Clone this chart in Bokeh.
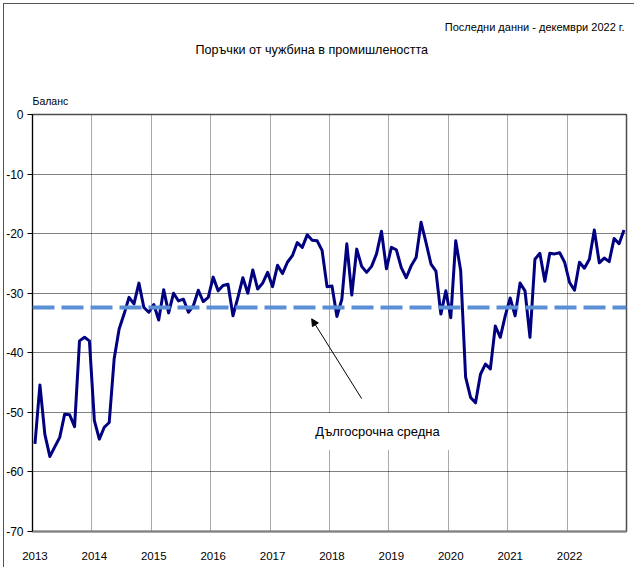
from bokeh.plotting import figure
from bokeh.layouts import column
from bokeh.models import Label, Arrow, NormalHead, Span, FixedTicker, Range1d
from bokeh.embed import file_html
from bokeh.resources import INLINE

# ---- data (monthly balance, Jan 2013 - Dec 2022) ----
years = ["2013", "2014", "2015", "2016", "2017", "2018", "2019", "2020", "2021", "2022"]
values_2013 = [-55.3, -45.4, -53.7, -57.4, -55.8, -54.2, -50.3, -50.4, -52.4, -38.0, -37.4, -38.0]
values_2014 = [-51.4, -54.5, -52.5, -51.7, -41.0, -36.0, -33.5, -30.7, -31.8, -28.3, -32.4, -33.2]
values_2015 = [-31.9, -34.5, -29.4, -33.3, -30.0, -31.3, -31.0, -33.2, -32.1, -29.5, -31.4, -30.7]
values_2016 = [-27.3, -29.6, -28.7, -28.5, -33.8, -30.7, -27.4, -30.0, -26.1, -29.3, -28.3, -26.5]
values_2017 = [-28.9, -25.3, -26.7, -24.8, -23.7, -21.5, -22.3, -20.2, -21.1, -21.2, -22.8, -28.9]
values_2018 = [-28.8, -33.9, -31.0, -21.7, -30.3, -22.6, -25.5, -26.5, -25.5, -23.4, -19.6, -25.9]
values_2019 = [-22.3, -22.7, -25.7, -27.4, -25.4, -24.0, -18.1, -21.5, -25.1, -26.3, -33.5, -29.6]
values_2020 = [-34.1, -21.2, -26.2, -44.1, -47.5, -48.4, -43.6, -41.9, -42.7, -35.5, -37.4, -33.8]
values_2021 = [-30.8, -33.8, -28.3, -29.6, -37.4, -24.3, -23.3, -28.0, -23.3, -23.4, -23.2, -24.8]
values_2022 = [-28.2, -29.5, -24.8, -25.8, -24.3, -19.4, -24.9, -24.1, -24.7, -20.8, -21.7, -19.4]
long_term_avg = -32.4
y_ticks = [0, -10, -20, -30, -40, -50, -60, -70]

title_text = "Поръчки от чужбина в промишлеността"
note_text = "Последни данни - декември 2022 г."
y_label_text = "Баланс"
avg_label_text = "Дългосрочна средна"

balance = (values_2013 + values_2014 + values_2015 + values_2016 + values_2017 +
           values_2018 + values_2019 + values_2020 + values_2021 + values_2022)
month_idx = list(range(len(balance)))

FONT = "Liberation Sans"
W = 634
HEAD_H = 106
MAIN_H = 461
FRAME_LEFT = 32

# ---- header with the titles (its frame is aligned with the chart frame) ----
head = figure(width=W, height=HEAD_H, output_backend="svg", toolbar_location=None,
              x_range=Range1d(FRAME_LEFT, W), y_range=Range1d(HEAD_H, 0),
              min_border_left=FRAME_LEFT, min_border_right=0,
              min_border_top=0, min_border_bottom=0)
head.axis.visible = False
head.grid.visible = False
head.outline_line_color = None
head.background_fill_color = None
head.border_fill_color = None
head.add_layout(Label(x=W - 2, y=26, text=note_text, text_align="right", text_baseline="middle",
                      text_font=FONT, text_font_size="11px", text_color="#000000"))
head.add_layout(Label(x=315, y=49, text=title_text, text_align="center", text_baseline="middle",
                      text_font=FONT, text_font_size="12.6px", text_color="#000000"))
head.add_layout(Label(x=FRAME_LEFT, y=100, text=y_label_text, text_align="left", text_baseline="middle",
                      text_font=FONT, text_font_size="10.5px", text_color="#000000"))

# ---- main chart ----
p = figure(width=W, height=MAIN_H, output_backend="svg", toolbar_location=None,
           x_range=Range1d(-0.5, len(balance) - 0.5), y_range=Range1d(-70, 0),
           min_border_left=FRAME_LEFT, min_border_right=8, min_border_top=8, min_border_bottom=36)
p.background_fill_color = "white"
p.border_fill_color = None
p.outline_line_color = "#4d4d4d"
p.outline_line_width = 1.5

# grids
p.xgrid.ticker = FixedTicker(ticks=[12 * k - 0.5 for k in range(1, len(years))])
p.xgrid.grid_line_color = "#555555"
p.xgrid.grid_line_dash = "1 1"
p.xgrid.grid_line_width = 1
p.ygrid.ticker = FixedTicker(ticks=[t for t in y_ticks if t not in (0, -70)])
p.ygrid.grid_line_color = "#000000"
p.ygrid.grid_line_dash = "1 1"
p.ygrid.grid_line_width = 1

# x axis
p.xaxis.ticker = FixedTicker(ticks=[12 * k for k in range(len(years))])
p.xaxis.major_label_overrides = {12 * k: y for k, y in enumerate(years)}
p.xaxis.major_tick_line_color = None
p.xaxis.minor_tick_line_color = None
p.xaxis.major_label_standoff = 14
p.xaxis.axis_line_color = "#808080"
p.xaxis.axis_line_width = 2
p.xaxis.major_label_text_font = FONT
p.xaxis.major_label_text_font_size = "11.5px"
p.xaxis.major_label_text_color = "#000000"

# y axis
p.yaxis.ticker = FixedTicker(ticks=y_ticks)
p.yaxis.major_label_overrides = {t: str(t) for t in y_ticks}
p.yaxis.major_tick_out = 5
p.yaxis.major_tick_in = 0
p.yaxis.minor_tick_line_color = None
p.yaxis.major_label_standoff = 4
p.yaxis.axis_line_color = "#000000"
p.yaxis.major_label_text_font = FONT
p.yaxis.major_label_text_font_size = "12px"
p.yaxis.major_label_text_color = "#000000"

# main series
p.line(month_idx, balance, line_color="#000080", line_width=3, line_join="round")

# long-term average
p.add_layout(Span(location=long_term_avg, dimension="width", line_color="#5A8FD6",
                  line_width=4, line_dash="22 7"))

# annotation
p.add_layout(Label(x=69.2, y=long_term_avg - 20.8, text=avg_label_text,
                   text_align="center", text_baseline="middle",
                   text_font=FONT, text_font_size="13px", text_color="#000000",
                   background_fill_color="white", padding=11))
p.add_layout(Arrow(x_start=66.0, y_start=long_term_avg - 15.3, x_end=55.9, y_end=long_term_avg - 1.9,
                   line_color="#000000", line_width=1,
                   end=NormalHead(size=7, fill_color="black", line_color="black")))

# outer chart-area border (top and left edges, as in the reference)
layout = column(head, p, spacing=0,
                styles={"background-color": "white",
                        "box-shadow": "inset 3px 3px 0 0 #ffffff, inset 4px 4px 0 0 #555555"})
open("out.html", "w").write(file_html(layout, INLINE))
